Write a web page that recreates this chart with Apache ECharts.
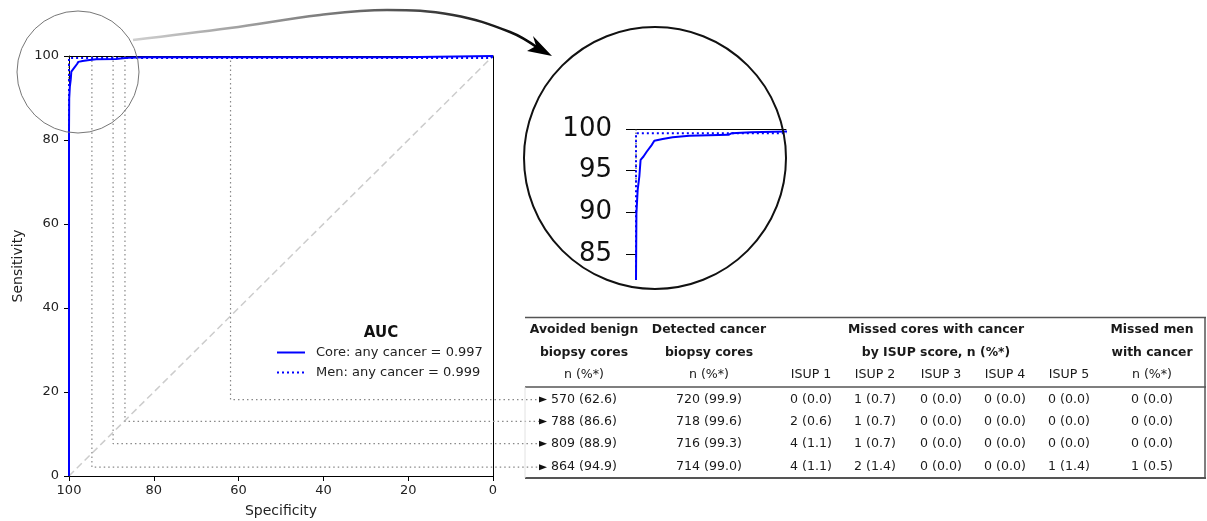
<!DOCTYPE html>
<html lang="en">
<head>
<meta charset="UTF-8">
<title>ROC with table</title>
<style>
  * { margin: 0; padding: 0; }
  #main { width: 1207px; height: 521px; background: #fff; }
</style>
</head>
<body>
<div id="main"></div>
<script src="https://cdn.jsdelivr.net/npm/echarts@6/dist/echarts.min.js"></script>
<script>
// ---- data ----
const coreName = 'Core: any cancer = 0.997';
const menName = 'Men: any cancer = 0.999';

const coreSpec = [100, 100, 99.95, 99.8, 99.6, 99.45, 99.1, 98.7, 98.1, 97.8, 96.8, 95.6, 93.6, 88.9, 88.5, 86.2, 82, 22, 22, 0];
const coreSens = [0, 82, 89.9, 92.7, 94.3, 96.3, 96.7, 97.3, 98.1, 98.6, 98.8, 99.0, 99.2, 99.3, 99.5, 99.6, 99.7, 99.7, 100, 100];

const menSpec = [100, 100, 0.5, 0];
const menSens = [0, 99.5, 99.5, 100];

// cut-off guides: vertical at specificity, then horizontal to the table row
const cutSpec = [61.9, 86.8, 89.6, 94.6];
const cutRowSens = [18.2, 13.0, 7.7, 2.1];
const arrowSpec = -11.8;

const insetTicks = [85, 90, 95, 100];

const headLine1 = ['Avoided benign', 'Detected cancer', 'Missed cores with cancer', 'Missed men'];
const headLine2 = ['biopsy cores', 'biopsy cores', 'by ISUP score, n (%*)', 'with cancer'];
const headLine3 = ['n (%*)', 'n (%*)', 'ISUP 1', 'ISUP 2', 'ISUP 3', 'ISUP 4', 'ISUP 5', 'n (%*)'];
const tableRows = [
  ['570 (62.6)', '720 (99.9)', '0 (0.0)', '1 (0.7)', '0 (0.0)', '0 (0.0)', '0 (0.0)', '0 (0.0)'],
  ['788 (86.6)', '718 (99.6)', '2 (0.6)', '1 (0.7)', '0 (0.0)', '0 (0.0)', '0 (0.0)', '0 (0.0)'],
  ['809 (88.9)', '716 (99.3)', '4 (1.1)', '1 (0.7)', '0 (0.0)', '0 (0.0)', '0 (0.0)', '0 (0.0)'],
  ['864 (94.9)', '714 (99.0)', '4 (1.1)', '2 (1.4)', '0 (0.0)', '0 (0.0)', '1 (1.4)', '1 (0.5)']
];

// ---- layout ----
const FONT = 'DejaVu Sans';
const colX = [584, 709, 811, 875, 941, 1005, 1069, 1152];
const headX = [584, 709, 936, 1152];
const headY = [330, 352.5, 375];
const BLUE = '#0000ff';

function pairs(xs, ys) {
  return xs.map(function (x, i) { return [x, ys[i]]; });
}

const chart = echarts.init(document.getElementById('main'));

const series = [
  {
    name: 'diag', type: 'line', data: [[100, 0], [0, 100]],
    symbol: 'none', silent: true, z: 1,
    lineStyle: { color: '#cccccc', width: 1.5, type: [7, 4] }
  }
];

// guides live on a hidden grid that reaches past the plot to the table
cutSpec.forEach(function (s, i) {
  series.push({
    name: 'cut' + i, type: 'line', xAxisIndex: 2, yAxisIndex: 2, symbol: 'none', showSymbol: true, z: 2,
    data: [
      [s, 100],
      [s, cutRowSens[i]],
      { value: [arrowSpec, cutRowSens[i]], symbol: 'triangle', symbolSize: [6, 8], symbolRotate: -90,
        itemStyle: { color: '#111' } }
    ],
    itemStyle: { color: '#888' },
    lineStyle: { color: '#888', width: 1.2, type: [1.5, 3] }
  });
});

series.push(
  {
    name: 'mark100', type: 'line', data: [[100, 100], [100, 93]], symbol: 'none', z: 3,
    lineStyle: { color: '#333', width: 1, type: [1.5, 2] }
  },
  {
    name: menName, type: 'line', data: pairs(menSpec, menSens), symbol: 'none', z: 4,
    itemStyle: { color: BLUE }, lineStyle: { color: BLUE, width: 2, type: [2, 3] }
  },
  {
    name: coreName, type: 'line', data: pairs(coreSpec, coreSens), symbol: 'none', z: 5,
    itemStyle: { color: BLUE }, lineStyle: { color: BLUE, width: 2 }
  },
  // zoomed inset
  {
    name: 'mark100i', type: 'line', xAxisIndex: 1, yAxisIndex: 1, data: [[100, 100], [100, 93]],
    symbol: 'none', z: 3, lineStyle: { color: '#333', width: 1, type: [1.5, 2] }
  },
  {
    name: menName, type: 'line', xAxisIndex: 1, yAxisIndex: 1, data: pairs(menSpec, menSens),
    symbol: 'none', z: 4, itemStyle: { color: BLUE }, lineStyle: { color: BLUE, width: 2, type: [2, 3] }
  },
  {
    name: coreName, type: 'line', xAxisIndex: 1, yAxisIndex: 1, data: pairs(coreSpec, coreSens),
    symbol: 'none', z: 5, itemStyle: { color: BLUE }, lineStyle: { color: BLUE, width: 2 }
  }
);

const hiddenAxis = {
  axisLine: { show: false }, axisTick: { show: false }, axisLabel: { show: false }, splitLine: { show: false }
};
const spineAxis = {
  axisLine: { show: true, onZero: false, lineStyle: { color: '#000', width: 1 } },
  axisTick: { show: false }, axisLabel: { show: false }, splitLine: { show: false }
};

const option = {
  animation: false,
  backgroundColor: '#fff',
  grid: [
    { left: 69, top: 56, width: 424, height: 420, outerBoundsMode: 'none', containLabel: false },
    { left: 636, top: 129, width: 150, height: 150, outerBoundsMode: 'none', containLabel: false },
    { left: 69, top: 56, width: 474, height: 420, outerBoundsMode: 'none', containLabel: false }
  ],
  xAxis: [
    {
      type: 'value', gridIndex: 0, min: 0, max: 100, interval: 20, inverse: true, position: 'bottom',
      name: 'Specificity', nameLocation: 'middle', nameGap: 28,
      nameTextStyle: { fontFamily: FONT, fontSize: 14, color: '#222' },
      axisLine: { onZero: false, lineStyle: { color: '#000', width: 1 } },
      axisTick: { show: true, length: 5, lineStyle: { color: '#000' } },
      axisLabel: { fontFamily: FONT, fontSize: 13, color: '#222', margin: 8 },
      splitLine: { show: false }
    },
    {
      type: 'value', gridIndex: 1, min: 82, max: 100, inverse: true, position: 'top',
      axisLine: { show: true, onZero: false, lineStyle: { color: '#000', width: 1 } },
      axisTick: { show: false }, axisLabel: { show: false }, splitLine: { show: false }
    },
    Object.assign({ type: 'value', gridIndex: 2, min: arrowSpec, max: 100, inverse: true }, hiddenAxis),
    Object.assign({ type: 'value', gridIndex: 0, min: 0, max: 100, inverse: true, position: 'top' }, spineAxis)
  ],
  yAxis: [
    {
      type: 'value', gridIndex: 0, min: 0, max: 100, interval: 20, position: 'left',
      name: 'Sensitivity', nameLocation: 'middle', nameGap: 44,
      nameTextStyle: { fontFamily: FONT, fontSize: 14, color: '#222' },
      axisLine: { show: true, onZero: false, lineStyle: { color: '#000', width: 1 } },
      axisTick: { show: true, length: 5, lineStyle: { color: '#000' } },
      axisLabel: { fontFamily: FONT, fontSize: 13, color: '#222', margin: 10 },
      splitLine: { show: false }
    },
    {
      type: 'value', gridIndex: 1, min: 82, max: 100,
      axisLine: { show: false },
      axisTick: { show: true, length: 10, customValues: insetTicks, lineStyle: { color: '#000', width: 1 } },
      axisLabel: { fontFamily: FONT, fontSize: 26, color: '#111', margin: 24, customValues: insetTicks },
      splitLine: { show: false }
    },
    Object.assign({ type: 'value', gridIndex: 2, min: 0, max: 100 }, hiddenAxis),
    Object.assign({ type: 'value', gridIndex: 0, min: 0, max: 100, position: 'right' }, spineAxis)
  ],
  series: series
};

chart.setOption(option);

// ---- annotations: circles, arrow, legend, table ----
const g = [];
g.push({ type: 'circle', shape: { cx: 78, cy: 72, r: 61 }, style: { fill: null, stroke: '#777', lineWidth: 1 }, z: 10 });
g.push({ type: 'circle', shape: { cx: 655, cy: 158, r: 131 }, style: { fill: null, stroke: '#111', lineWidth: 2 }, z: 10 });
g.push({
  type: 'polyline', z: 10,
  shape: { points: [[133, 40], [230, 28], [320, 15], [387, 10], [453, 15], [510, 32], [538, 48]], smooth: 0.4 },
  style: {
    fill: null, lineWidth: 2.5,
    stroke: { type: 'linear', x: 0, y: 0, x2: 1, y2: 0, global: false,
      colorStops: [{ offset: 0, color: '#d0d0d0' }, { offset: 0.5, color: '#777' }, { offset: 1, color: '#000' }] }
  }
});
g.push({ type: 'polygon', z: 11, shape: { points: [[552, 56], [527, 51], [536, 46], [533, 36]] }, style: { fill: '#000' } });

// legend
g.push({ type: 'text', z: 10, style: { text: 'AUC', x: 381, y: 333, align: 'center', verticalAlign: 'middle',
  font: 'bold 15px ' + FONT, fill: '#111' } });
[[coreName, null, 352.5], [menName, [2, 3], 372.5]].forEach(function (it) {
  g.push({ type: 'line', z: 10, shape: { x1: 277, y1: it[2], x2: 305, y2: it[2] },
    style: { stroke: BLUE, lineWidth: 2, lineDash: it[1] } });
  g.push({ type: 'text', z: 10, style: { text: it[0], x: 316, y: it[2], align: 'left', verticalAlign: 'middle',
    font: '13px ' + FONT, fill: '#222' } });
});

// table rules
function rule(x1, y1, x2, y2, color, w) {
  g.push({ type: 'line', z: 10, shape: { x1: x1, y1: y1, x2: x2, y2: y2 }, style: { stroke: color, lineWidth: w } });
}
rule(525, 317.5, 1206, 317.5, '#555', 1.5);
rule(525, 387, 1206, 387, '#555', 1.5);
rule(525, 478, 1206, 478, '#555', 2);
rule(1205, 317, 1205, 478.5, '#555', 1.5);
rule(525, 387, 525, 478, '#e2e2e2', 1);

function txt(s, x, y, bold) {
  g.push({ type: 'text', z: 10, style: { text: s, x: x, y: y, align: 'center', verticalAlign: 'middle',
    font: (bold ? 'bold 12.4px ' : '12.6px ') + FONT, fill: '#1a1a1a' } });
}
headLine1.forEach(function (s, i) { txt(s, headX[i], headY[0], true); });
headLine2.forEach(function (s, i) { txt(s, headX[i], headY[1], true); });
headLine3.forEach(function (s, i) { txt(s, colX[i], headY[2], false); });

tableRows.forEach(function (row, r) {
  const y = chart.convertToPixel({ gridIndex: 2 }, [0, cutRowSens[r]])[1];
  row.forEach(function (s, c) { txt(s, colX[c], y, false); });
});

chart.setOption({ graphic: g });
</script>
</body>
</html>
